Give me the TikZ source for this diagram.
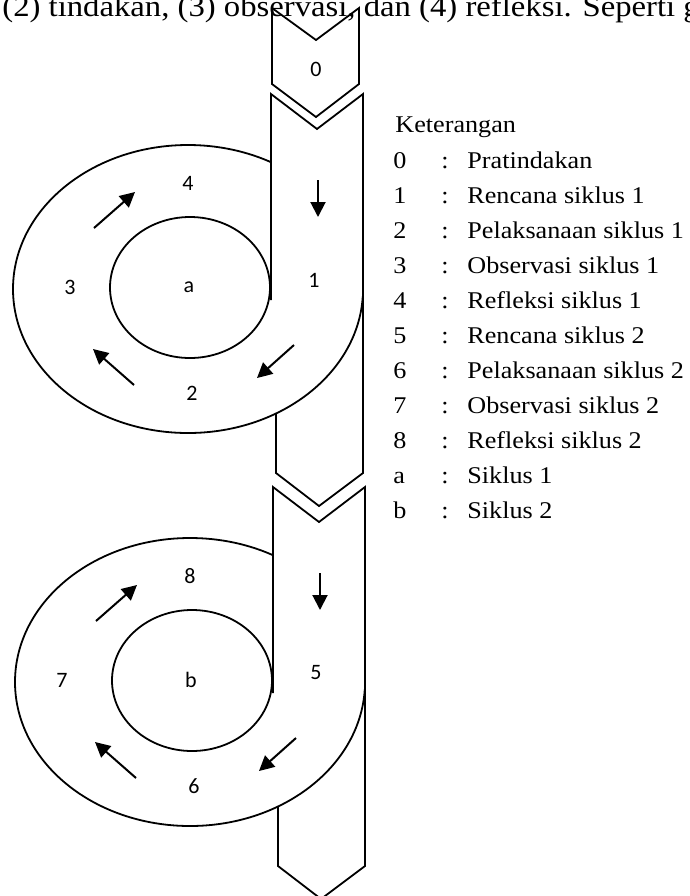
\documentclass[tikz,border=0pt]{standalone}
\usepackage{fontspec}
\setmainfont{Liberation Serif}
\newfontfamily\legendfont[FakeStretch=1.09]{Liberation Serif}
\newfontfamily\labelfont{Carlito}
\usetikzlibrary{arrows.meta}

\tikzset{
  outline/.style={draw, line width=0.9pt, line join=miter},
  flow/.style={line width=1pt, -{Triangle[length=7.5pt,width=7.5pt]}},
  num/.style={font=\labelfont\fontsize{11}{13}\selectfont, inner sep=0pt},
  legend/.style={font=\legendfont\fontsize{12}{14}\selectfont, anchor=base west, inner sep=0pt},
}

\begin{document}
\begin{tikzpicture}[x=0.5pt,y=-0.5pt]
  \useasboundingbox (0,0) rectangle (690,896);
  \clip (0,0) rectangle (690,896);

  % running text above the figure
  \node[legend, font=\legendfont\fontsize{15}{18}\selectfont] (intro) at (2,16)
    {(2) tindakan, (3) observasi, dan (4) refleksi. Seperti g};

  % pre-action chevron
  \draw[outline] (272,8) -- (316,40) -- (359,8) -- (359,84) -- (316,117) -- (272,84) -- cycle;
  \node[num] (n0) at (316,69) {0};

  % the two cycles
  \foreach \s/\dx/\dy/\p/\q/\r/\t/\xr in {a/0/0/1/2/3/4/70, b/2/393/5/6/7/8/60}{
    \begin{scope}[shift={(\dx,\dy)}]
      % chevron part behind the ring
      \draw[outline] (276,380) -- (276,473) -- (319,506) -- (363,473) -- (363,380);
      % ring
      \draw[outline, fill=white] (188,289) ellipse [x radius=175, y radius=144];
      \draw[outline] (190,287.5) ellipse [x radius=80, y radius=70.5];
      % chevron part in front of the ring
      \fill[white] (271,94) -- (317,129) -- (363,94) -- (363,296) -- (271,296) -- cycle;
      \draw[outline] (271,300) -- (271,94) -- (317,129) -- (363,94) -- (363,473);

      \node[num] (n\p) at (314,280) {\p};
      \node[num] (n\q) at (192,393) {\q};
      \node[num] (n\r) at (\xr,287) {\r};
      \node[num] (n\t) at (188,183) {\t};
      \node[num] (c\s) at (189,287) {\s};

      \coordinate (\s-a1) at (318,180);  \coordinate (\s-a2) at (318,217);
      \coordinate (\s-b1) at (294,345);  \coordinate (\s-b2) at (257,378);
      \coordinate (\s-c1) at (134,385);  \coordinate (\s-c2) at (93,349);
      \coordinate (\s-d1) at (94,228);   \coordinate (\s-d2) at (135,192);
      \foreach \m in {a,b,c,d}
        \draw[flow] (\s-\m1) -- (\s-\m2);
    \end{scope}
  }

  % legend
  \node[legend] (keterangan) at (395,132) {Keterangan};
  \foreach \k/\txt [count=\i] in {0/Pratindakan, 1/Rencana siklus 1, 2/Pelaksanaan siklus 1,
      3/Observasi siklus 1, 4/Refleksi siklus 1, 5/Rencana siklus 2, 6/Pelaksanaan siklus 2,
      7/Observasi siklus 2, 8/Refleksi siklus 2, a/Siklus 1, b/Siklus 2}{
    \node[legend] (key\k) at (393,{133+35*\i}) {\k};
    \node[legend] (colon\k) at (441,{133+35*\i}) {:};
    \node[legend] (desc\k) at (467,{133+35*\i}) {\txt};
  }
\end{tikzpicture}
\end{document}
